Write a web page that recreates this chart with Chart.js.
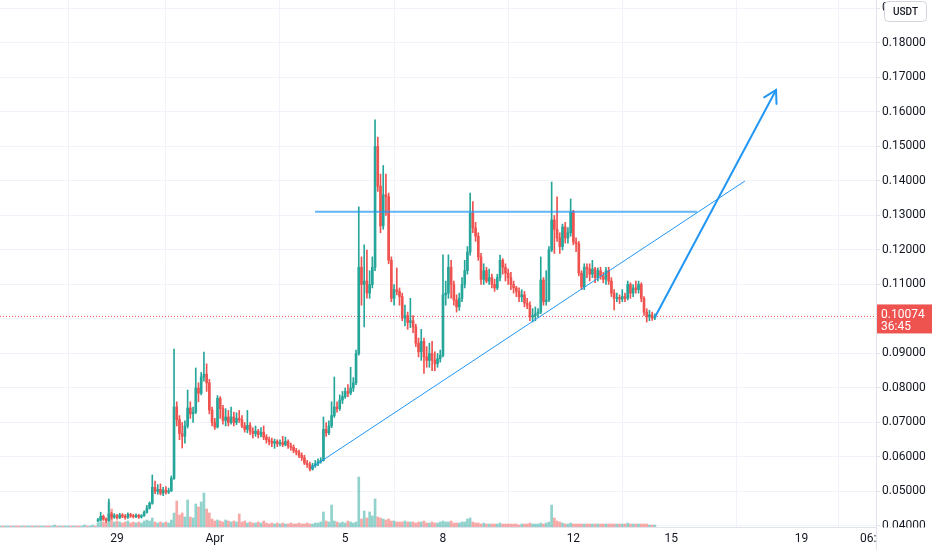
<!DOCTYPE html>
<html><head><meta charset="utf-8">
<script src="https://cdn.jsdelivr.net/npm/chart.js@4.4.1/dist/chart.umd.min.js"></script>
<style>html,body{margin:0;padding:0;background:#fff;overflow:hidden}#wrap{width:932px;height:550px;position:relative}</style>
</head><body><div id="wrap"><canvas id="c" width="932" height="550"></canvas></div>
<script>
// time in hours relative to 29 Mar 00:00, 2h candles
const firstCandleHour = -14;
const candleHours = 2;
const xMinHour = -86.13, xMaxHour = 558.8;

const preVolume = [1,1,1,1,1,1,1,1,1,1,1,1,1,1,1,1,1,1,1,1,2,1,1,1,1,1,1,1,1,1,1,2,1,1,2,1];
const preUp     = [1,0,1,1,0,1,0,0,1,0,1,1,0,1,0,1,1,0,0,1,1,0,1,0,1,1,0,1,0,0,1,1,0,1,1,0];

const open = [.0415,.0418,.0428,.0420,.0416,.0434,.0426,
.0430,.0424,.0432,.0428,.0425,.0433,.0429,.0427,.0431,.0426,.0430,.0440,
.0452,.0466,.0512,.0500,.0506,.0495,.0504,.0498,.0502,.0538,.0745,.0708,
.0668,.0660,.0690,.0742,.0725,.0730,.0800,.0785,.0832,.0840,.0815,.0736,
.0700,.0687,.0770,.0740,.0706,.0716,.0700,.0716,.0700,.0712,.0708,.0690,
.0680,.0692,.0675,.0668,.0675,.0665,.0672,.0658,.0650,.0645,.0640,.0645,
.0638,.0642,.0636,.0645,.0632,.0628,.0618,.0614,.0605,.0598,.0582,.0578,
.0565,.0575,.0580,.0586,.0590,.0680,.0670,.0690,.0720,.0745,.0740,.0765,
.0775,.0790,.0785,.0800,.0815,.0900,.1150,.1100,.1110,.1075,.1100,.1150,
.1500,.1385,.1270,.1360,.1355,.1170,.1060,.1085,.1080,.1065,.1003,.1010,
.0990,.0995,.0977,.0930,.0905,.0935,.0890,.0880,.0900,.0880,.0870,.0885,
.0895,.1070,.1075,.1150,.1100,.1055,.1035,.1060,.1100,.1140,.1194,.1307,
.1264,.1240,.1180,.1115,.1140,.1110,.1120,.1100,.1090,.1120,.1170,.1150,
.1133,.1120,.1100,.1090,.1080,.1064,.1070,.1046,.1040,.1006,.1010,.1015,
.1020,.1113,.1050,.1055,.1200,.1287,.1260,.1235,.1210,.1267,.1235,.1250,
.1310,.1223,.1218,.1133,.1093,.1150,.1145,.1130,.1145,.1120,.1140,.1125,
.1115,.1140,.1110,.1075,.1060,.1062,.1058,.1065,.1060,.1100,.1075,.1090,
.1085,.1100,.1060,.1020,.1006,.1012,.1003];

const high = [.0422,.0440,.0432,.0424,.0478,.0440,.0436,
.0434,.0437,.0436,.0433,.0438,.0437,.0434,.0435,.0434,.0433,.0444,.0460,
.0470,.0548,.0530,.0520,.0522,.0512,.0514,.0510,.0545,.0913,.0760,.0720,
.0700,.0705,.0794,.0760,.0745,.0858,.0815,.0845,.0904,.0870,.0825,.0745,
.0712,.0778,.0775,.0750,.0740,.0735,.0745,.0730,.0728,.0735,.0720,.0700,
.0735,.0700,.0685,.0690,.0680,.0685,.0690,.0665,.0658,.0655,.0652,.0650,
.0650,.0660,.0658,.0650,.0640,.0635,.0625,.0620,.0612,.0605,.0590,.0585,
.0582,.0590,.0595,.0598,.0716,.0700,.0705,.0760,.0832,.0760,.0780,.0790,
.0800,.0810,.0860,.0830,.0910,.1325,.1180,.1215,.1200,.1140,.1180,.1577,
.1527,.1420,.1445,.1420,.1365,.1180,.1100,.1148,.1090,.1075,.1040,.1020,
.1060,.1010,.0985,.0945,.0970,.0945,.0920,.0930,.0935,.0905,.0900,.0910,
.1186,.1110,.1186,.1170,.1110,.1070,.1075,.1120,.1170,.1210,.1365,.1340,
.1280,.1250,.1190,.1160,.1150,.1145,.1130,.1115,.1130,.1185,.1175,.1160,
.1145,.1135,.1110,.1095,.1090,.1085,.1080,.1060,.1050,.1030,.1035,.1030,
.1180,.1120,.1140,.1210,.1397,.1300,.1354,.1250,.1275,.1280,.1265,.1348,
.1315,.1235,.1225,.1140,.1160,.1160,.1160,.1170,.1150,.1148,.1150,.1135,
.1150,.1150,.1120,.1085,.1075,.1070,.1085,.1075,.1110,.1105,.1100,.1110,
.1110,.1105,.1065,.1030,.1025,.1020,.1015];

const low = [.0412,.0416,.0416,.0410,.0414,.0420,.0422,
.0420,.0421,.0424,.0420,.0422,.0425,.0423,.0424,.0422,.0423,.0428,.0437,
.0449,.0463,.0494,.0492,.0490,.0488,.0492,.0494,.0500,.0535,.0690,.0650,
.0626,.0640,.0684,.0712,.0700,.0726,.0760,.0780,.0820,.0790,.0725,.0690,
.0680,.0684,.0712,.0695,.0690,.0690,.0695,.0690,.0694,.0700,.0685,.0672,
.0670,.0665,.0655,.0660,.0655,.0658,.0650,.0640,.0635,.0630,.0625,.0630,
.0632,.0630,.0632,.0625,.0620,.0612,.0606,.0598,.0590,.0578,.0570,.0560,
.0562,.0570,.0575,.0582,.0588,.0660,.0665,.0685,.0715,.0730,.0735,.0755,
.0770,.0775,.0780,.0790,.0810,.0895,.1040,.0977,.1060,.1060,.1090,.1140,
.1370,.1250,.1260,.1300,.1160,.1050,.1040,.1070,.1040,.0995,.0980,.0970,
.0975,.0960,.0920,.0890,.0880,.0842,.0860,.0860,.0850,.0850,.0860,.0875,
.0890,.1040,.1060,.1060,.1040,.1020,.1025,.1050,.1090,.1130,.1185,.1250,
.1225,.1170,.1100,.1100,.1105,.1100,.1090,.1080,.1085,.1110,.1130,.1110,
.1100,.1085,.1075,.1065,.1050,.1050,.1035,.1030,.0995,.0991,.0995,.1005,
.1015,.1040,.1040,.1050,.1195,.1190,.1225,.1190,.1200,.1220,.1220,.1240,
.1215,.1195,.1125,.1085,.1085,.1120,.1110,.1120,.1105,.1110,.1115,.1105,
.1100,.1100,.1065,.1026,.1050,.1045,.1050,.1050,.1055,.1060,.1065,.1075,
.1075,.1050,.1010,.0991,.0995,.0996,.0998];

const close = [.0418,.0428,.0420,.0416,.0434,.0426,.0430,
.0424,.0432,.0428,.0425,.0433,.0429,.0427,.0431,.0426,.0430,.0440,.0452,
.0466,.0512,.0500,.0506,.0495,.0504,.0498,.0502,.0538,.0745,.0708,.0668,
.0660,.0690,.0742,.0725,.0730,.0800,.0785,.0832,.0840,.0815,.0736,.0700,
.0687,.0770,.0740,.0706,.0716,.0700,.0716,.0700,.0712,.0708,.0690,.0680,
.0692,.0675,.0668,.0675,.0665,.0672,.0658,.0650,.0645,.0640,.0645,.0638,
.0642,.0636,.0645,.0632,.0628,.0618,.0614,.0605,.0598,.0582,.0578,.0565,
.0575,.0580,.0586,.0590,.0680,.0670,.0690,.0720,.0745,.0740,.0765,.0775,
.0790,.0785,.0800,.0815,.0900,.1150,.1100,.1110,.1075,.1100,.1150,.1500,
.1385,.1270,.1360,.1355,.1170,.1060,.1085,.1080,.1065,.1003,.1010,.0990,
.0995,.0977,.0930,.0905,.0935,.0890,.0880,.0900,.0880,.0870,.0885,.0895,
.1070,.1075,.1150,.1100,.1055,.1035,.1060,.1100,.1140,.1194,.1307,.1264,
.1240,.1180,.1115,.1140,.1110,.1120,.1100,.1090,.1120,.1170,.1150,.1133,
.1120,.1100,.1090,.1080,.1064,.1070,.1046,.1040,.1006,.1010,.1015,.1020,
.1113,.1050,.1055,.1200,.1287,.1260,.1235,.1210,.1267,.1235,.1250,.1310,
.1223,.1218,.1133,.1093,.1150,.1145,.1130,.1145,.1120,.1140,.1125,.1115,
.1140,.1110,.1075,.1060,.1062,.1058,.1065,.1060,.1100,.1075,.1090,.1085,
.1100,.1060,.1020,.1006,.1012,.1003,.10074];

const volume = [4,10,5,4,25,18,5,
6,5,4,5,6,4,5,4,5,4,6,7,
6,9,5,4,5,4,5,4,7,14,26,12,
14,10,27,10,9,23,20,25,34,18,14,8,
6,7,6,5,7,6,5,6,5,13,5,6,
4,5,4,4,5,4,6,4,3,4,3,4,
3,4,3,3,4,3,3,4,3,3,4,3,
3,4,4,5,15,6,5,22,6,5,4,5,
4,6,5,4,5,50,8,16,9,15,11,28,
10,9,8,7,8,6,6,5,5,5,6,5,
5,5,4,5,5,6,4,4,5,4,4,5,
6,5,5,6,4,4,4,5,5,8,9,5,
4,4,3,4,3,3,3,3,3,4,3,3,
3,3,3,3,2,3,3,3,4,3,3,3,
4,3,4,5,22,9,6,5,4,3,3,4,
3,3,3,3,3,3,3,3,3,3,3,3,
3,3,3,3,3,3,3,3,4,3,3,3,
3,3,3,3,2,2,2];

const xTickHours  = [0, 72, 168, 240, 336, 408, 504, 558];
const xTickLabels = ['29', 'Apr', '5', '8', '12', '15', '19', '06:00'];
const yTicks = [0.04,0.05,0.06,0.07,0.08,0.09,0.10,0.11,0.12,0.13,0.14,0.15,0.16,0.17,0.18,0.19];
const yMin = 0.03971, yMax = 0.19246;

const lastPrice = 0.10074;
const countdown = '36:45';
const currency = 'USDT';

const resistanceHours  = [145.8, 427.0];
const resistancePrices = [0.1311, 0.1311];
const trendHours  = [142.8, 462.3];
const trendPrices = [0.0568, 0.1400];
const arrowHours  = [396.1, 485.2];
const arrowPrices = [0.1006, 0.1664];

const UP = '#26a69a', DOWN = '#ef5350';
const UPV = 'rgba(38,166,154,0.5)', DOWNV = 'rgba(239,83,80,0.5)';
const BLUE = '#2196f3';
const FONT = 'Roboto, "Noto Sans", sans-serif';

const candleTime = i => firstCandleHour + i * candleHours;
const isUp = i => close[i] >= open[i];

const wickData = close.map((c, i) => ({x: candleTime(i), y: [low[i], high[i]]}));
const bodyData = close.map((c, i) => ({x: candleTime(i), y: [open[i], c]}));
const candleColors = close.map((c, i) => isUp(i) ? UP : DOWN);
const volData = preVolume.map((v, k) => ({x: candleTime(k - preVolume.length), y: v}))
  .concat(volume.map((v, i) => ({x: candleTime(i), y: v})));
const volColors = preUp.map(u => u ? UPV : DOWNV).concat(close.map((c, i) => isUp(i) ? UPV : DOWNV));

const line = (hs, ps) => hs.map((h, k) => ({x: h, y: ps[k]}));

const overlay = {
  id: 'overlay',
  afterDraw(chart) {
    const ctx = chart.ctx, ca = chart.chartArea, ys = chart.scales.y;
    const W = chart.width, H = chart.height;
    ctx.save();
    // arrow head
    const meta = chart.getDatasetMeta(5);
    const p0 = meta.data[0], p1 = meta.data[1];
    const dx = p0.x - p1.x, dy = p0.y - p1.y, len = Math.hypot(dx, dy);
    const ux = dx / len, uy = dy / len, L = 14, a = Math.PI / 6;
    ctx.strokeStyle = BLUE; ctx.lineWidth = 2; ctx.lineCap = 'round';
    ctx.beginPath();
    ctx.moveTo(p1.x + L * (ux * Math.cos(a) - uy * Math.sin(a)), p1.y + L * (ux * Math.sin(a) + uy * Math.cos(a)));
    ctx.lineTo(p1.x, p1.y);
    ctx.lineTo(p1.x + L * (ux * Math.cos(-a) - uy * Math.sin(-a)), p1.y + L * (ux * Math.sin(-a) + uy * Math.cos(-a)));
    ctx.stroke();
    // blank bottom-right corner + axis border extension
    ctx.fillStyle = '#fff';
    ctx.fillRect(ca.right + 0.5, ca.bottom + 0.5, W - ca.right, H - ca.bottom);
    ctx.strokeStyle = '#e0e3eb'; ctx.lineWidth = 1;
    ctx.beginPath(); ctx.moveTo(Math.round(ca.right) + 0.5, 0); ctx.lineTo(Math.round(ca.right) + 0.5, H); ctx.stroke();
    // currency box
    ctx.fillStyle = '#fff'; ctx.strokeStyle = '#d1d4dc';
    ctx.beginPath(); ctx.roundRect(884.5, 1.5, 42, 20, 4); ctx.fill(); ctx.stroke();
    ctx.fillStyle = '#131722'; ctx.font = '500 10px ' + FONT; ctx.textAlign = 'center'; ctx.textBaseline = 'middle';
    ctx.fillText(currency, 905.5, 12);
    // last price label
    const py = ys.getPixelForValue(lastPrice);
    ctx.fillStyle = DOWN;
    ctx.fillRect(ca.right + 1, py - 12, W - ca.right, 29);
    ctx.fillStyle = '#fff'; ctx.font = '12px ' + FONT; ctx.textAlign = 'left';
    ctx.fillText(lastPrice.toFixed(5), 881, py - 1);
    ctx.fillText(countdown, 881, py + 11);
    ctx.restore();
  }
};

new Chart(document.getElementById('c'), {
  type: 'bar',
  data: {
    datasets: [
      {type: 'bar', data: volData, yAxisID: 'yv', backgroundColor: volColors, barThickness: 2, grouped: false, order: 5},
      {type: 'bar', data: wickData, yAxisID: 'y', backgroundColor: candleColors, barThickness: 1, grouped: false, order: 4},
      {type: 'bar', data: bodyData, yAxisID: 'y', backgroundColor: candleColors, barThickness: 2, minBarLength: 1, grouped: false, order: 3},
      {type: 'line', data: line(resistanceHours, resistancePrices), yAxisID: 'y', borderColor: 'rgba(33,150,243,0.7)', borderWidth: 2, pointRadius: 0, order: 2},
      {type: 'line', data: line(trendHours, trendPrices), yAxisID: 'y', borderColor: BLUE, borderWidth: 1, pointRadius: 0, order: 1},
      {type: 'line', data: line(arrowHours, arrowPrices), yAxisID: 'y', borderColor: BLUE, borderWidth: 2, pointRadius: 0, order: 0},
      {type: 'line', data: line([xMinHour, xMaxHour], [lastPrice, lastPrice]), yAxisID: 'y', borderColor: DOWN, borderWidth: 1, borderDash: [1, 2], pointRadius: 0, order: 6}
    ]
  },
  options: {
    responsive: false, animation: false, devicePixelRatio: 1,
    layout: {padding: 0},
    plugins: {legend: {display: false}, tooltip: {enabled: false}},
    scales: {
      x: {
        type: 'linear', min: xMinHour, max: xMaxHour, offset: false,
        afterBuildTicks: s => { s.ticks = xTickHours.map(v => ({value: v})); },
        afterFit: s => { s.height = 23; s.paddingLeft = 0; s.paddingRight = 0; },
        ticks: {autoSkip: false, maxRotation: 0, padding: 5, color: '#131722', font: {family: FONT, size: 12},
          callback: (v, i) => xTickLabels[i]},
        grid: {color: '#f0f3fa', drawTicks: false},
        border: {color: '#e0e3eb'}
      },
      y: {
        type: 'linear', position: 'right', min: yMin, max: yMax,
        afterBuildTicks: s => { s.ticks = yTicks.map(v => ({value: v})); },
        afterFit: s => { s.width = 56; s.paddingTop = 0; s.paddingBottom = 0; },
        ticks: {autoSkip: false, padding: 2, color: '#131722', font: {family: FONT, size: 12}, callback: v => v.toFixed(5)},
        grid: {color: '#f0f3fa', tickLength: 4, tickColor: '#e0e3eb'},
        border: {color: '#e0e3eb'}
      },
      yv: {type: 'linear', display: false, min: 0, max: 527}
    }
  },
  plugins: [overlay]
});
</script>
</body></html>
